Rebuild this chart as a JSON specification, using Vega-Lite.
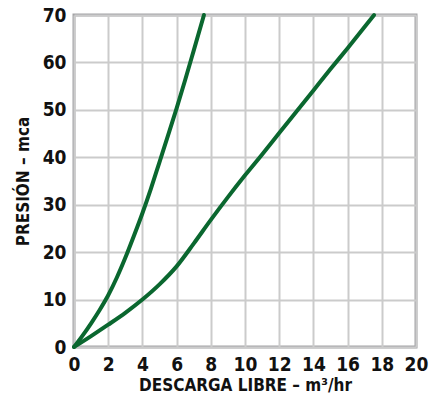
{
  "$schema": "https://vega.github.io/schema/vega-lite/v6.json",
  "autosize": "none",
  "width": 342,
  "height": 332,
  "padding": {"left": 74, "top": 15, "right": 24, "bottom": 47},
  "background": "white",
  "config": {
    "view": {"stroke": "#a3a3a6", "strokeWidth": 3},
    "font": "DejaVu Sans Condensed",
    "axis": {
      "grid": true,
      "gridColor": "#cbcbcb",
      "gridWidth": 2,
      "domain": false,
      "ticks": false,
      "labelFlush": false,
      "labelFont": "DejaVu Sans Condensed",
      "labelFontWeight": "bold",
      "labelFontSize": 19,
      "labelColor": "#111111",
      "titleFont": "DejaVu Sans Condensed",
      "titleFontWeight": "bold",
      "titleFontSize": 17,
      "titleColor": "#111111"
    }
  },
  "data": {
    "values": [
      {"x": 0, "y": 0, "c": "A"},
      {"x": 0.5, "y": 2.4, "c": "A"},
      {"x": 1, "y": 5.0, "c": "A"},
      {"x": 1.5, "y": 7.8, "c": "A"},
      {"x": 2, "y": 10.9, "c": "A"},
      {"x": 2.5, "y": 14.6, "c": "A"},
      {"x": 3, "y": 18.8, "c": "A"},
      {"x": 3.5, "y": 23.4, "c": "A"},
      {"x": 4, "y": 28.2, "c": "A"},
      {"x": 4.5, "y": 33.4, "c": "A"},
      {"x": 5, "y": 39, "c": "A"},
      {"x": 5.5, "y": 44.6, "c": "A"},
      {"x": 6, "y": 50.3, "c": "A"},
      {"x": 6.5, "y": 56.3, "c": "A"},
      {"x": 7, "y": 62.5, "c": "A"},
      {"x": 7.6, "y": 70, "c": "A"},
      {"x": 0, "y": 0, "c": "B"},
      {"x": 1, "y": 2.3, "c": "B"},
      {"x": 2, "y": 4.7, "c": "B"},
      {"x": 3, "y": 7.2, "c": "B"},
      {"x": 4, "y": 10, "c": "B"},
      {"x": 5, "y": 13.2, "c": "B"},
      {"x": 6, "y": 17, "c": "B"},
      {"x": 7, "y": 21.8, "c": "B"},
      {"x": 8, "y": 26.8, "c": "B"},
      {"x": 9, "y": 31.6, "c": "B"},
      {"x": 10, "y": 36.2, "c": "B"},
      {"x": 11, "y": 40.6, "c": "B"},
      {"x": 12, "y": 45.1, "c": "B"},
      {"x": 13, "y": 49.6, "c": "B"},
      {"x": 14, "y": 54.1, "c": "B"},
      {"x": 15, "y": 58.6, "c": "B"},
      {"x": 16, "y": 63, "c": "B"},
      {"x": 17, "y": 67.5, "c": "B"},
      {"x": 17.55, "y": 70, "c": "B"}
    ]
  },
  "mark": {"type": "line", "interpolate": "monotone", "strokeWidth": 4, "color": "#0a672f", "strokeCap": "round"},
  "encoding": {
    "x": {
      "field": "x", "type": "quantitative",
      "scale": {"domain": [0, 20], "nice": false},
      "axis": {"values": [0, 2, 4, 6, 8, 10, 12, 14, 16, 18, 20], "title": "DESCARGA LIBRE – m³/hr", "labelPadding": 8, "titlePadding": 3}
    },
    "y": {
      "field": "y", "type": "quantitative",
      "scale": {"domain": [0, 70], "nice": false},
      "axis": {"values": [0, 10, 20, 30, 40, 50, 60, 70], "title": "PRESIÓN – mca", "labelPadding": 8, "titlePadding": 10}
    },
    "detail": {"field": "c"}
  }
}
